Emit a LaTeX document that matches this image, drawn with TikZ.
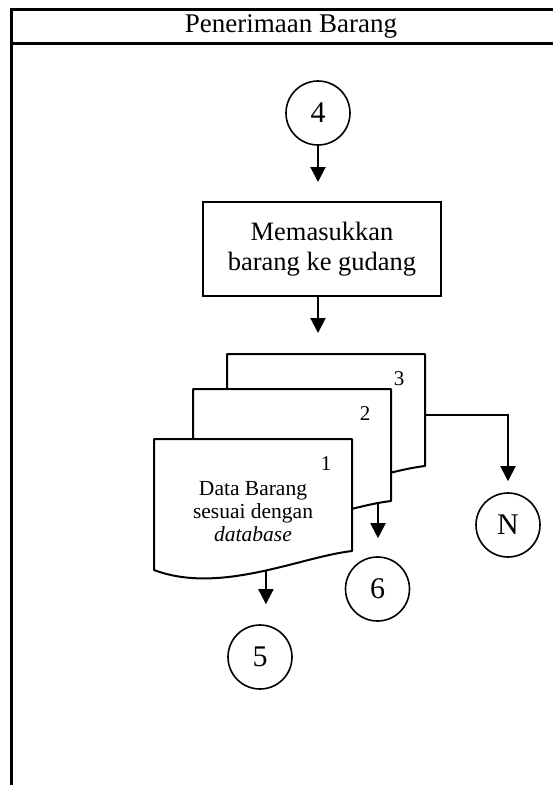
\documentclass[tikz,border=0pt]{standalone}
\usepackage{fontspec}
\setmainfont{Liberation Serif}
\usetikzlibrary{arrows.meta}

\begin{document}
\begin{tikzpicture}[x=1pt,y=-1pt,
  frame/.style={line width=3pt},
  flow/.style={line width=2pt,-{Triangle[width=15pt,length=15pt]}},
  conn/.style={circle,draw,line width=1.6pt,minimum size=64pt,inner sep=0pt,font=\fontsize{30}{30}\selectfont},
  process/.style={draw,line width=2pt,minimum width=238pt,minimum height=94pt,align=center,inner sep=0pt,font=\fontsize{26.5}{30}\selectfont},
  docbox/.style={minimum width=198pt,minimum height=112pt,anchor=north west,inner sep=0pt}]
\useasboundingbox (0,0) rectangle (553,785);
% kolom
\draw[frame] (553,9) -- (11,9) -- (11,785);
\draw[frame] (11,43) -- (553,43);
\node[font=\fontsize{27}{27}\selectfont] (title) at (291,26) {Penerimaan Barang};

\node[conn] (c4) at (318,113) {4};
\node[process] (box) at (322,249) {Memasukkan\\barang ke gudang};

% dokumen rangkap 3
\foreach \n/\x/\y/\p in {3/227/354/0.5, 2/193/389/0.08, 1/154/439/0.463}{
  \node[docbox] (doc\n) at (\x,\y) {};
  \draw[line width=2pt,fill=white,line join=round] (\x,\y) -- ({\x+198},\y) -- ({\x+198},{\y+112})
    .. controls ({\x+146},{\y+118}) and ({\x+66},{\y+156}) .. coordinate[pos=\p] (out\n) (\x,{\y+131}) -- cycle;
  \node[font=\fontsize{21}{21}\selectfont] (num\n) at ({\x+172},{\y+25}) {\n};
}
\node[font=\fontsize{21.5}{23}\selectfont,align=center] (doctext) at (253,511.5) {Data Barang\\sesuai dengan\\\textit{database}};

\node[conn] (c6) at (377.5,589) {6};
\node[conn] (c5) at (260,657) {5};
\node[conn] (cN) at (508,525) {N};

\draw[flow,shorten >=19pt] (c4) -- (c4 |- box.north);
\draw[flow,shorten >=21pt] (box.south -| c4) -- (c4 |- doc3.north);
\draw[flow,shorten >=18pt] (out2) -- (out2 |- c6.north);
\draw[flow,shorten >=20pt] (out1) -- (out1 |- c5.north);
\draw[flow,shorten >=11pt] ([yshift=-5pt]doc3.east) -| (cN);
\end{tikzpicture}
\end{document}
